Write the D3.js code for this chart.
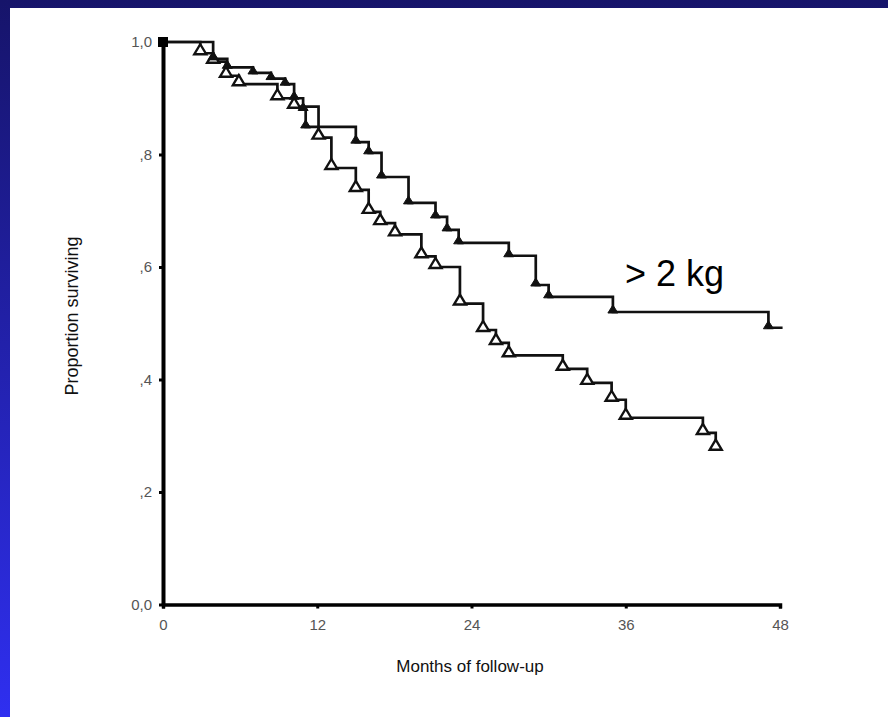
<!DOCTYPE html>
<html>
<head>
<meta charset="utf-8">
<script src="https://cdn.jsdelivr.net/npm/d3@7"></script>
<style>
  body { margin: 0; padding: 0; overflow: hidden; }
  svg { display: block; }
  .tick text { font-family: "Liberation Sans Narrow", "Liberation Sans", Arial, sans-serif; fill: #555; }
</style>
</head>
<body>
<div id="chart"></div>
<script>
// Tick values / labels
var monthTicks = [0, 12, 24, 36, 48];
var survTicks = [0, 0.2, 0.4, 0.6, 0.8, 1.0];
var survTickLabels = ["0,0", ",2", ",4", ",6", ",8", "1,0"];

// > 2 kg group (filled triangles): time of each drop and proportion after it
var heavyMonths = [0, 3.9, 5.0, 7.0, 8.4, 9.5, 10.2, 10.9, 11.1, 15.0, 16.0, 17.0, 19.1, 21.2, 22.1, 23.0, 26.9, 29.0, 30.0, 35.0, 47.1];
var heavySurv = [1.0, 0.97, 0.955, 0.945, 0.935, 0.925, 0.9, 0.88, 0.849, 0.822, 0.803, 0.76, 0.714, 0.689, 0.666, 0.643, 0.62, 0.568, 0.547, 0.52, 0.492];
var heavyLastMonth = 48.2;

// other group (open triangles)
var lightMonths = [0, 2.9, 3.9, 4.9, 5.9, 8.9, 10.2, 12.1, 13.1, 15.0, 16.0, 16.9, 18.05, 20.1, 21.2, 23.1, 24.9, 25.9, 26.9, 31.1, 33.0, 34.9, 36.0, 42.0, 43.0];
var lightSurv = [1.0, 0.98, 0.965, 0.94, 0.925, 0.9, 0.885, 0.83, 0.776, 0.737, 0.698, 0.678, 0.658, 0.619, 0.6, 0.535, 0.488, 0.465, 0.443, 0.419, 0.394, 0.364, 0.332, 0.305, 0.277];

var width = 888, height = 717;

var svg = d3.select("#chart").append("svg")
  .attr("width", width)
  .attr("height", height);

// blue frame + white sheet
var grad = svg.append("defs").append("linearGradient")
  .attr("id", "bg").attr("x1", 0).attr("y1", 0).attr("x2", 0).attr("y2", 1);
grad.append("stop").attr("offset", "0%").attr("stop-color", "#16146a");
grad.append("stop").attr("offset", "100%").attr("stop-color", "#2f2ff0");
svg.append("rect").attr("width", width).attr("height", height).attr("fill", "url(#bg)");
svg.append("rect").attr("x", 10).attr("y", 8).attr("width", width - 10).attr("height", height - 8).attr("fill", "#fff");

var x = d3.scaleLinear().domain([0, 48]).range([163, 780]);
var y = d3.scaleLinear().domain([0, 1]).range([604.5, 42]);

/*
 * AXES
 * =============================== */

var yAxis = svg.append("g")
  .attr("transform", "translate(" + x(0) + ",0)")
  .call(d3.axisLeft(y)
    .tickValues(survTicks)
    .tickFormat(function(d, i) { return survTickLabels[i]; })
    .tickSize(4).tickSizeOuter(0).tickPadding(7));
yAxis.select(".domain").attr("stroke", "#000").attr("stroke-width", 4);
yAxis.selectAll(".tick line").attr("stroke", "#000").attr("stroke-width", 3);
yAxis.selectAll(".tick text").attr("font-size", 15);

var xAxis = svg.append("g")
  .attr("transform", "translate(0," + y(0) + ")")
  .call(d3.axisBottom(x)
    .tickValues(monthTicks)
    .tickSize(4).tickSizeOuter(4).tickPadding(11));
xAxis.select(".domain").attr("stroke", "#000").attr("stroke-width", 3.5);
xAxis.selectAll(".tick line").attr("stroke", "#000").attr("stroke-width", 3);
xAxis.selectAll(".tick text").attr("font-size", 15);

svg.append("text")
  .attr("transform", "translate(78," + 316 + ") rotate(-90)")
  .attr("text-anchor", "middle")
  .attr("font-family", "Liberation Sans, Arial, sans-serif")
  .attr("font-size", 18)
  .attr("fill", "#111")
  .text("Proportion surviving");

svg.append("text")
  .attr("x", 470).attr("y", 672)
  .attr("text-anchor", "middle")
  .attr("font-family", "Liberation Sans, Arial, sans-serif")
  .attr("font-size", 17)
  .attr("fill", "#111")
  .text("Months of follow-up");

/*
 * CURVES
 * =============================== */

var toPoints = function(ms, ss) {
  return ms.map(function(m, i) { return [m, ss[i]]; });
};

var step = d3.line()
  .x(function(d) { return x(d[0]); })
  .y(function(d) { return y(d[1]); })
  .curve(d3.curveStepAfter);

var heavyPts = toPoints(heavyMonths, heavySurv);
var lightPts = toPoints(lightMonths, lightSurv);

svg.append("path")
  .datum(lightPts)
  .attr("d", step)
  .attr("fill", "none").attr("stroke", "#111").attr("stroke-width", 2.7);

svg.append("path")
  .datum(heavyPts.concat([[heavyLastMonth, heavySurv[heavySurv.length - 1]]]))
  .attr("d", step)
  .attr("fill", "none").attr("stroke", "#111").attr("stroke-width", 2.7);

// triangles sit on each drop, base on the new level
var tri = function(w, h) {
  return "M" + (-w / 2) + ",0L" + (w / 2) + ",0L0," + (-h) + "Z";
};

svg.selectAll(".open-mark")
  .data(lightPts.slice(1))
  .enter().append("path")
  .attr("class", "open-mark")
  .attr("d", tri(12, 10))
  .attr("transform", function(d) { return "translate(" + x(d[0]) + "," + (y(d[1]) + 1) + ")"; })
  .attr("fill", "#fff").attr("stroke", "#111").attr("stroke-width", 2.4);

svg.selectAll(".full-mark")
  .data(heavyPts.slice(1))
  .enter().append("path")
  .attr("class", "full-mark")
  .attr("d", tri(10, 8))
  .attr("transform", function(d) { return "translate(" + x(d[0]) + "," + (y(d[1]) + 1) + ")"; })
  .attr("fill", "#111").attr("stroke", "#111").attr("stroke-width", 1);

// start marker
svg.append("rect")
  .attr("x", x(0) - 5).attr("y", y(1) - 5)
  .attr("width", 10).attr("height", 10)
  .attr("fill", "#000");

svg.append("text")
  .attr("x", 625).attr("y", 286)
  .attr("font-family", "Liberation Sans, Arial, sans-serif")
  .attr("font-size", 36)
  .attr("fill", "#000")
  .text("> 2 kg");
</script>
</body>
</html>
